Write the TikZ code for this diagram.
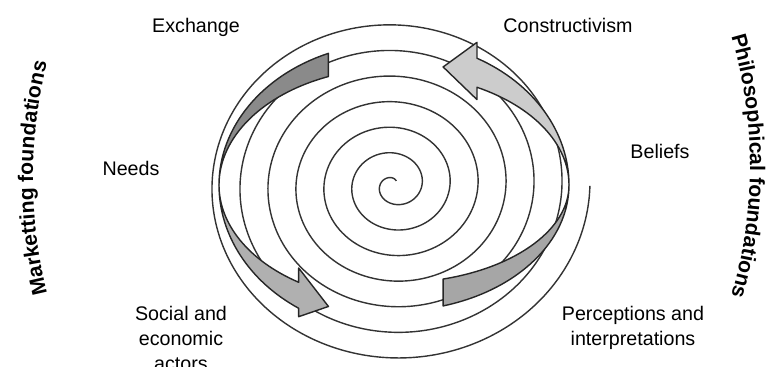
\documentclass[tikz,border=0pt]{standalone}
\usepackage{fontspec}
\setmainfont{Liberation Sans}
\usepackage{tikz}
\usetikzlibrary{decorations.text, positioning}

\definecolor{ribdark}{HTML}{8A8A8A}
\definecolor{ribmid}{HTML}{B0B0B0}
\definecolor{riblight}{HTML}{CCCCCC}
\definecolor{ribshade}{HTML}{A6A6A6}

\tikzset{
  %% Concept label
  lbl/.style={
    font=\fontsize{11.2}{14.2}\selectfont,
    inner sep=0pt, align=center, anchor=base
  },
  %% Spiral line
  spiral/.style={draw=black!80, line width=0.8pt},
  %% Twisted band with arrow
  ribbon/.style={
    draw=black!85, fill=#1,
    line width=0.8pt, line join=round
  },
  ribbon/.default=gray,
  %% Curved side title
  sidetitle/.style={
    decorate,
    decoration={text along path, text align=center, text={#1}}
  },
}
\newcommand{\founfont}{\fontsize{12}{14}\selectfont\bfseries}

\begin{document}
\begin{tikzpicture}[x=0.02cm, y=0.02cm]
  \useasboundingbox (0,0) rectangle (775,366);

  \begin{scope}[shift={(394,181)}]
    %% Spiral
    \draw[spiral] plot[domain=1.1:43.98, samples=700, smooth]
      ({4.456*\x*cos(\x r)}, {0.915*4.456*\x*sin(\x r)});

    %% Left band: upper half
    \filldraw[ribbon=ribdark] (112:175 and 142)
      arc[start angle=112, end angle=180, x radius=175, y radius=142]
      arc[start angle=180, end angle=112, x radius=175, y radius=117]
      -- cycle;
    %% Left band: lower half with head
    \filldraw[ribbon=ribmid] (180:175 and 147)
      arc[start angle=180, end angle=237, x radius=175, y radius=147]
      -- (237:175 and 157) -- (248:175 and 131) -- (237:175 and 99)
      -- (237:175 and 116)
      arc[start angle=237, end angle=180, x radius=175, y radius=116]
      -- cycle;

    %% Right band: lower half
    \filldraw[ribbon=ribshade] (286.3:175 and 126)
      arc[start angle=286.3, end angle=360, x radius=175, y radius=126]
      arc[start angle=360, end angle=286.3, x radius=175, y radius=98]
      -- cycle;
    %% Right band: upper half with head
    \filldraw[ribbon=riblight] (0:175 and 144)
      arc[start angle=0, end angle=61.7, x radius=175, y radius=144]
      -- (61.7:175 and 162) -- (73.7:175 and 123) -- (61.7:175 and 97)
      -- (61.7:175 and 111)
      arc[start angle=61.7, end angle=0, x radius=175, y radius=111]
      -- cycle;
  \end{scope}

  %% Concept labels
  \node[lbl] (exchange) at (196,334) {Exchange};
  \node[lbl] (constr)   at (568,334) {Constructivism};
  \node[lbl] (needs)    at (131,191) {Needs};
  \node[lbl] (beliefs)  at (660,208) {Beliefs};
  \node[lbl] (social)   at (181,-4)  {Social and\\economic\\actors};
  \node[lbl] (percep)   at (633,21)  {Perceptions and\\interpretations};

  %% Side titles
  \path[sidetitle={|\founfont|Marketting foundations}]
    (512,188) ++(196:479) arc[start angle=196, end angle=164, radius=479];
  \path[sidetitle={|\founfont|Philosophical foundations}]
    (289,200) ++(20:461) arc[start angle=20, end angle=-20, radius=461];
\end{tikzpicture}
\end{document}
